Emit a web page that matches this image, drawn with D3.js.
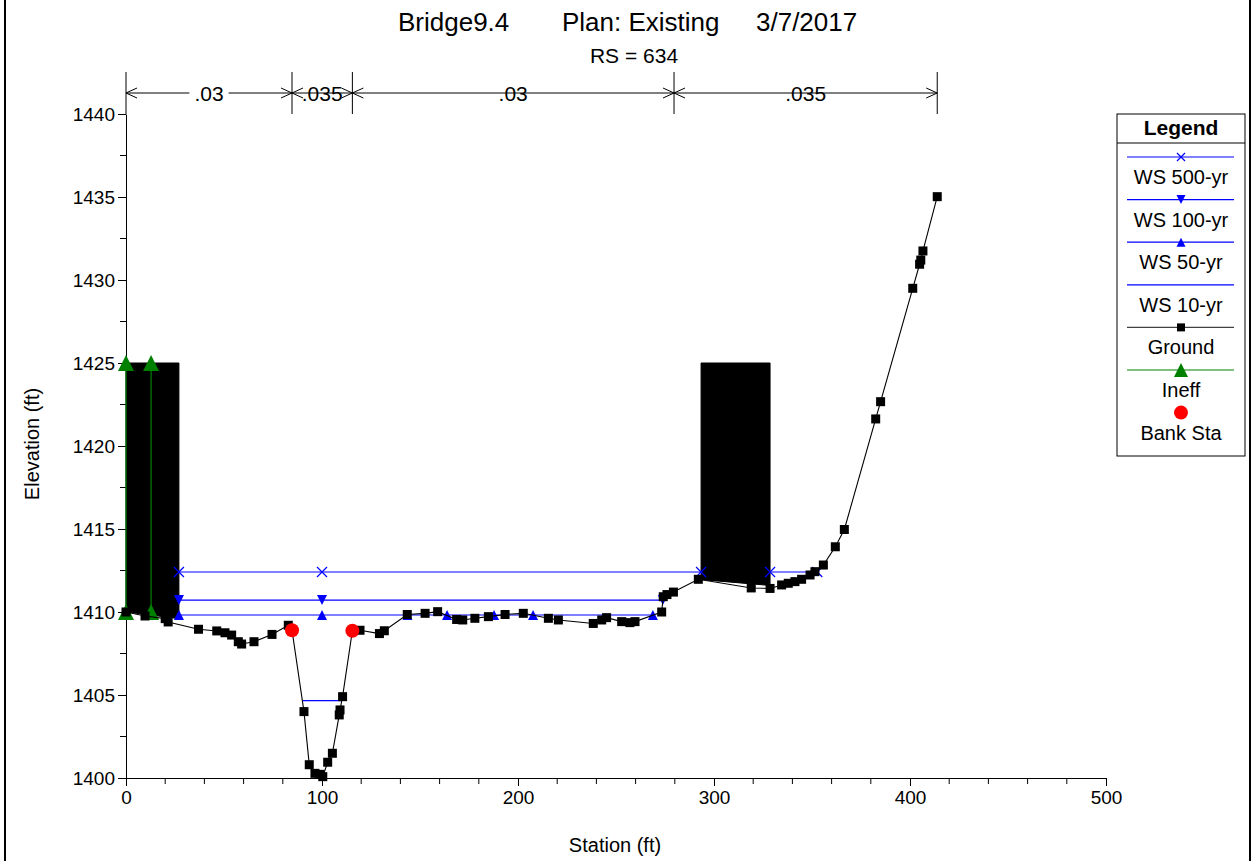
<!DOCTYPE html>
<meta charset="utf-8">
<head>
<style>
  body { margin: 0; background: #fff; }
  svg { display: block; font-family: "Liberation Sans", Arial, sans-serif; }
  .axis path, .axis line { stroke: #000; }
</style>
<script src="https://cdn.jsdelivr.net/npm/d3@7"></script>
</head>
<body>
<script>

// ground profile, station (ft) and elevation (ft)
var groundSta = [0, 9.7, 20.0, 21.5, 37.0, 46.3, 50.5, 53.9, 57.3, 59.0, 65.3, 74.5, 82.8, 84.7,
  90.8, 93.5, 96.4, 99.0, 100.4, 102.9, 105.3, 108.8, 109.2, 110.5, 115.5, 119.4, 129.3, 131.8,
  143.5, 152.6, 159.0, 168.7, 171.8, 178.0, 184.9, 193.4, 202.7, 215.5, 220.6, 238.4, 242.7, 245.2,
  252.9, 257.1, 259.7, 273.3, 274.1, 276.0, 279.3, 292.0, 319.0, 328.6, 334.5, 337.9, 341.3, 344.7,
  349.0, 351.5, 355.8, 361.9, 366.5, 382.5, 385.0, 401.4, 404.9, 405.5, 406.6, 413.9];
var groundElev = [1410.0, 1409.76, 1409.6, 1409.4, 1408.96, 1408.86, 1408.75, 1408.61, 1408.21, 1408.07, 1408.21, 1408.65, 1409.2, 1408.9,
  1404.0, 1400.8, 1400.28, 1400.22, 1400.08, 1400.95, 1401.49, 1403.8, 1404.1, 1404.9, 1408.87, 1408.9, 1408.7, 1408.87,
  1409.85, 1409.92, 1410.02, 1409.55, 1409.52, 1409.62, 1409.72, 1409.85, 1409.92, 1409.62, 1409.52, 1409.31, 1409.52, 1409.66,
  1409.42, 1409.36, 1409.42, 1410.0, 1410.92, 1411.05, 1411.2, 1411.97, 1411.45, 1411.42, 1411.63, 1411.73, 1411.83, 1411.97,
  1412.23, 1412.43, 1412.83, 1413.93, 1414.97, 1421.63, 1422.67, 1429.5, 1430.95, 1431.2, 1431.75, 1435.02];

// bank stations
var bankSta = [84.7, 115.5];
var bankElev = [1408.9, 1408.87];

// bridge deck blocks: [left sta, right sta], top elev, bottom elev at each side
var deckSta = [[0, 27], [293.4, 328.6]];
var deckTop = [[1425, 1425], [1425, 1425]];
var deckBot = [[1410, 1409.6], [1411.95, 1411.6]];

// ineffective flow stations
var ineffSta = [0, 12.8];
var ineffLow = 1410;
var ineffHigh = 1425;

// water surfaces
var wsNames = ["WS 500-yr", "WS 100-yr", "WS 50-yr", "WS 10-yr"];
var wsElev = [1412.41, 1410.72, 1409.82, 1404.66];
var wsSegments = [
  [[27, 293.4], [328.6, 352.7]],
  [[27, 273.9]],
  [[27, 268.8]],
  [[90.0, 110.1]]
];
var wsMarkers = [
  [27, 100, 293.4, 328.6, 352.7],
  [27, 100, 273.9],
  [27, 100, 143.6, 163.8, 187.8, 207.7, 268.8],
  []
];
var wsSymbols = ["x", "down", "up", "none"];

// Manning's n
var roughSta = [0, 84.7, 115.5, 279.6, 413.9];
var roughVal = [".03", ".035", ".03", ".035"];

var xTicks = [0, 100, 200, 300, 400, 500];
var yTicks = [1400, 1405, 1410, 1415, 1420, 1425, 1430, 1435, 1440];

var width = 1255, height = 861;
var svg = d3.select("body").append("svg")
    .attr("width", width)
    .attr("height", height);

var x = d3.scaleLinear().domain([0, 500]).range([126, 1106]);
var y = d3.scaleLinear().domain([1400, 1440]).range([778, 114]);

// window frame (left and right edges)
svg.append("rect").attr("x", 5).attr("y", -5).attr("width", 1245).attr("height", height + 10)
  .attr("fill", "none").attr("stroke", "#000").attr("stroke-width", 2);

// titles
var title = svg.append("g").style("font-size", "26px");
title.append("text").attr("x", 398).attr("y", 31).text("Bridge9.4");
title.append("text").attr("x", 562).attr("y", 31).text("Plan: Existing");
title.append("text").attr("x", 756).attr("y", 31).text("3/7/2017");
svg.append("text").attr("x", 634).attr("y", 63).attr("text-anchor", "middle")
  .style("font-size", "21px").text("RS = 634");

// axes
var xAxis = svg.append("g").attr("class", "axis")
  .attr("transform", "translate(0," + y(1400) + ")")
  .call(d3.axisBottom(x).tickValues(xTicks).tickSize(8).tickSizeOuter(0).tickPadding(5));
xAxis.selectAll("text").style("font-size", "19px").attr("fill", "#000");
xAxis.selectAll(".minor").data(d3.range(20, 500, 20).filter(function(d) { return d % 100; }))
  .enter().append("line").attr("class", "minor")
  .attr("x1", x).attr("x2", x).attr("y1", 0).attr("y2", 6).attr("stroke", "#000");

var yAxis = svg.append("g").attr("class", "axis")
  .attr("transform", "translate(" + x(0) + ",0)")
  .call(d3.axisLeft(y).tickValues(yTicks).tickFormat(d3.format("d")).tickSize(8).tickSizeOuter(0).tickPadding(3));
yAxis.selectAll("text").style("font-size", "19px").attr("fill", "#000");
yAxis.selectAll(".minor").data(d3.range(1402.5, 1440, 5))
  .enter().append("line").attr("class", "minor")
  .attr("y1", y).attr("y2", y).attr("x1", 0).attr("x2", -6).attr("stroke", "#000");
svg.selectAll(".axis").attr("font-family", null);

svg.append("text").attr("x", 615).attr("y", 852).attr("text-anchor", "middle")
  .style("font-size", "20px").text("Station (ft)");
svg.append("text").attr("transform", "translate(39,444) rotate(-90)").attr("text-anchor", "middle")
  .style("font-size", "20px").text("Elevation (ft)");

// Manning's n bar
var rough = svg.append("g");
var ry = 93;
roughSta.forEach(function(s) {
  rough.append("line").attr("x1", x(s)).attr("x2", x(s)).attr("y1", 72).attr("y2", 114)
    .attr("stroke", "#000");
});
roughVal.forEach(function(v, i) {
  var x1 = x(roughSta[i]), x2 = x(roughSta[i + 1]), xm = (x1 + x2) / 2;
  rough.append("line").attr("x1", x1).attr("x2", x2).attr("y1", ry).attr("y2", ry).attr("stroke", "#000");
  var t = rough.append("text").attr("x", xm).attr("y", ry + 8).attr("text-anchor", "middle")
    .style("font-size", "21px").text(v);
  var w = t.node().getComputedTextLength();
  rough.insert("rect", "text").attr("x", xm - w / 2 - 5).attr("y", ry - 3).attr("width", w + 10).attr("height", 6)
    .attr("fill", "#fff");
  // open arrowheads at both ends
  rough.append("path").attr("d", "M" + (x1 + 11) + "," + (ry - 5) + "L" + x1 + "," + ry + "L" + (x1 + 11) + "," + (ry + 5))
    .attr("fill", "none").attr("stroke", "#000");
  rough.append("path").attr("d", "M" + (x2 - 11) + "," + (ry - 5) + "L" + x2 + "," + ry + "L" + (x2 - 11) + "," + (ry + 5))
    .attr("fill", "none").attr("stroke", "#000");
});

// bridge deck
deckSta.forEach(function(s, i) {
  var pts = [[x(s[0]), y(deckTop[i][0])], [x(s[1]), y(deckTop[i][1])],
             [x(s[1]), y(deckBot[i][1])], [x(s[0]), y(deckBot[i][0])]];
  svg.append("path").attr("d", "M" + pts.join("L") + "Z").attr("fill", "#000").attr("stroke", "#000");
});

// symbol helper
function marker(g, type, cx, cy, s, color) {
  if (type === "x") {
    g.append("path").attr("d", "M" + (cx - s) + "," + (cy - s) + "L" + (cx + s) + "," + (cy + s) +
      "M" + (cx - s) + "," + (cy + s) + "L" + (cx + s) + "," + (cy - s))
      .attr("stroke", color).attr("stroke-width", 1.2).attr("fill", "none");
  } else if (type === "down") {
    g.append("path").attr("d", "M" + (cx - s) + "," + (cy - s) + "L" + (cx + s) + "," + (cy - s) + "L" + cx + "," + (cy + s) + "Z")
      .attr("fill", color);
  } else if (type === "up") {
    g.append("path").attr("d", "M" + (cx - s) + "," + (cy + s) + "L" + (cx + s) + "," + (cy + s) + "L" + cx + "," + (cy - s) + "Z")
      .attr("fill", color);
  } else if (type === "square") {
    g.append("rect").attr("x", cx - s).attr("y", cy - s).attr("width", 2 * s).attr("height", 2 * s).attr("fill", color);
  } else if (type === "circle") {
    g.append("circle").attr("cx", cx).attr("cy", cy).attr("r", s).attr("fill", color);
  }
}

// water surfaces
var wsG = svg.append("g");
wsElev.forEach(function(e, i) {
  wsSegments[i].forEach(function(seg) {
    wsG.append("line").attr("x1", x(seg[0])).attr("x2", x(seg[1])).attr("y1", y(e)).attr("y2", y(e))
      .attr("stroke", "#0000ff").attr("stroke-width", 1.2);
  });
  wsMarkers[i].forEach(function(s) {
    marker(wsG, wsSymbols[i], x(s), y(e), 5, "#0000ff");
  });
});

// ineffective flow
var ineffG = svg.append("g");
ineffSta.forEach(function(s) {
  ineffG.append("line").attr("x1", x(s)).attr("x2", x(s)).attr("y1", y(ineffLow)).attr("y2", y(ineffHigh))
    .attr("stroke", "#008000").attr("stroke-width", 1.2);
  marker(ineffG, "up", x(s), y(ineffLow), 8, "#008000");
  marker(ineffG, "up", x(s), y(ineffHigh), 8, "#008000");
});

// ground
var line = d3.line().x(function(d) { return x(d[0]); }).y(function(d) { return y(d[1]); });
var ground = d3.zip(groundSta, groundElev);
svg.append("path").datum(ground).attr("d", line).attr("fill", "none").attr("stroke", "#000").attr("stroke-width", 1.1);
var gG = svg.append("g");
ground.forEach(function(d) { marker(gG, "square", x(d[0]), y(d[1]), 4.5, "#000"); });

// bank stations
bankSta.forEach(function(s, i) { marker(svg, "circle", x(s), y(bankElev[i]), 7, "#ff0000"); });

// legend
var lg = svg.append("g");
lg.append("rect").attr("x", 1117).attr("y", 114).attr("width", 128).attr("height", 342)
  .attr("fill", "#fff").attr("stroke", "#000");
lg.append("line").attr("x1", 1117).attr("x2", 1245).attr("y1", 143).attr("y2", 143).attr("stroke", "#000");
lg.append("text").attr("x", 1181).attr("y", 135).attr("text-anchor", "middle")
  .style("font-size", "21px").style("font-weight", "bold").text("Legend");

var legNames = wsNames.concat(["Ground", "Ineff", "Bank Sta"]);
var legColors = ["#0000ff", "#0000ff", "#0000ff", "#0000ff", "#404040", "#008000", null];
var legSymbols = wsSymbols.concat(["square", "up", "circle"]);
var legSymColors = ["#0000ff", "#0000ff", "#0000ff", "#0000ff", "#000", "#008000", "#ff0000"];
var legSizes = [4, 4.5, 4.5, 0, 4, 7, 7];
legNames.forEach(function(n, i) {
  var ly = 157 + i * 42.6;
  if (legColors[i]) {
    lg.append("line").attr("x1", 1127).attr("x2", 1234).attr("y1", ly).attr("y2", ly)
      .attr("stroke", legColors[i]).attr("stroke-width", 1.2);
  }
  marker(lg, legSymbols[i], 1181, ly, legSizes[i], legSymColors[i]);
  lg.append("text").attr("x", 1181).attr("y", ly + 27).attr("text-anchor", "middle")
    .style("font-size", "20px").text(n);
});

</script>
</body>
